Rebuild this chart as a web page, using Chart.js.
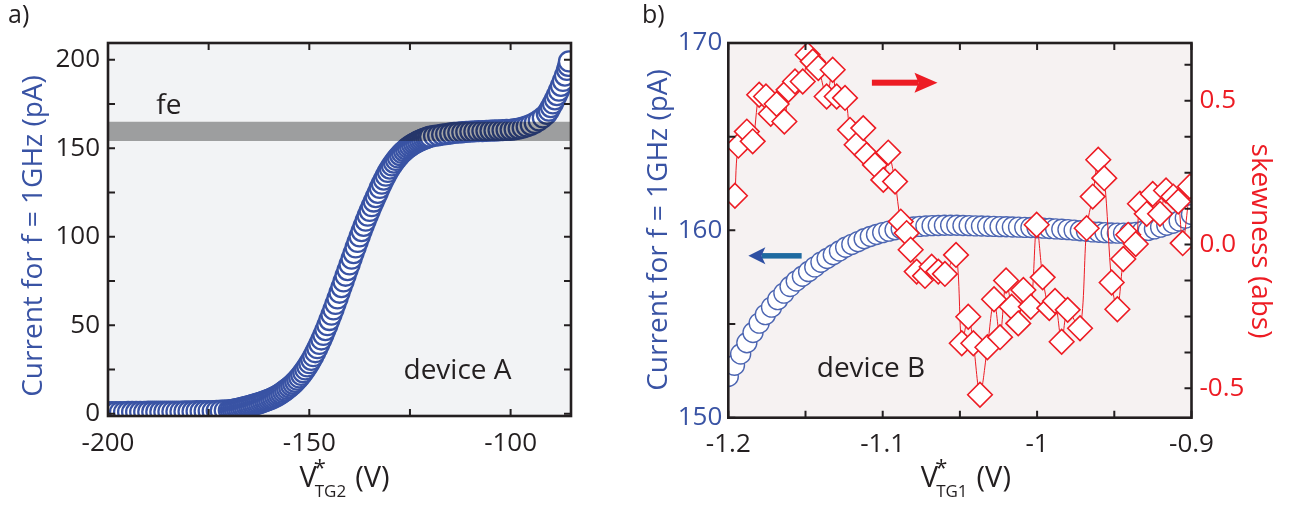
<!DOCTYPE html>
<html><head><meta charset="utf-8">
<script src="https://cdn.jsdelivr.net/npm/chart.js@4.4.1/dist/chart.umd.min.js"></script>
<style>
html,body{margin:0;padding:0;background:#fff;}
#wrap{position:relative;width:1293px;height:508px;overflow:hidden;background:#fff;}
#ca{position:absolute;left:0;top:0;width:640px;height:508px;}
#cb{position:absolute;left:640px;top:0;width:653px;height:508px;}
</style></head><body>
<div id="wrap"><canvas id="ca" width="640" height="508"></canvas><canvas id="cb" width="653" height="508"></canvas></div>
<script>
// ---------------- Panel a data (device A) ----------------
const voltageA = [
-200,-199,-198,-197,-196,-195,-194,-193,-192,-191,-190,-189,-188,-187,-186,-185,-184,-183,-182,-181,-180,-179,-178,-177,-176,-175,-174,-173,-172,-171,
-170,-169.5,-169,-168.5,-168,-167.5,-167,-166.5,-166,-165.5,
-165,-164.5,-164,-163.5,-163,-162.5,-162,-161.5,-161,-160.5,
-160,-159.5,-159,-158.5,-158,-157.5,-157,-156.5,-156,-155.5,
-155,-154.5,-154,-153.5,-153,-152.5,-152,-151.5,-151,-150.5,
-150,-149.5,-149,-148.5,-148,-147.5,-147,-146.5,-146,-145.5,
-145,-144.5,-144,-143.5,-143,-142.5,-142,-141.5,-141,-140.5,
-140,-139.5,-139,-138.5,-138,-137.5,-137,-136.5,-136,-135.5,
-135,-134.5,-134,-133.5,-133,-132.5,-132,-131.5,-131,-130.5,
-130,-129.5,-129,-128.5,-128,-127.5,-127,-126.5,-126,-125.5,
-125,-124.5,-124,-123.5,-123,-122.5,-122,-121.5,-121,-120.5,
-120,
-119,-118,-117,-116,-115,-114,-113,-112,-111,-110,-109,-108,-107,-106,-105,-104,-103,-102,-101,-100,-99,-98,-97,-96,-95,-94,-93,-92,-91,
-90.5,-90,-89.5,-89,-88.5,-88,-87.5,-87,-86.5,-86,-85.7,-85.5];
const currentA = [
1.0,1.0,1.0,1.0,1.0,1.1,1.1,1.1,1.1,1.1,1.2,1.2,1.2,1.2,1.2,1.3,1.3,1.3,1.3,1.4,1.4,1.4,1.5,1.5,1.5,1.6,1.6,1.7,1.8,1.9,
2.0,2.1,2.3,2.5,2.7,2.9,3.2,3.5,3.8,4.1,
4.4,4.7,5.0,5.3,5.6,6.0,6.4,6.8,7.2,7.6,
8.0,8.5,9.0,9.6,10.2,10.9,11.6,12.4,13.2,14.1,
15.0,16.0,17.0,18.1,19.3,20.6,22.0,23.5,25.1,26.8,
28.6,30.5,32.6,34.8,37.1,39.5,42.0,44.6,47.3,50.1,
53.0,56.0,59.0,62.1,65.2,68.4,71.6,74.8,78.0,81.2,
84.4,87.6,90.8,94.0,97.1,100.2,103.2,106.2,109.1,111.9,
114.6,117.3,119.9,122.4,124.8,127.6,130.0,132.3,134.5,136.6,
138.5,140.3,141.9,143.4,144.8,146.1,147.3,148.4,149.4,150.3,
151.1,151.9,152.6,153.2,153.8,154.3,154.8,155.3,155.7,156.1,
156.5,
156.9,157.3,157.7,158.0,158.3,158.6,158.8,159.0,159.2,159.4,159.5,159.6,159.7,159.8,159.9,160.0,160.1,160.2,160.3,160.4,160.7,161.1,161.6,162.3,163.2,164.3,165.7,167.4,169.4,
171.2,173.2,175.3,177.6,180.0,182.5,185.2,188.0,191.0,194.2,196.5,199.0];
const feBand = [154, 165];           // shaded "fe" level (pA)
const xRangeA = [-200, -85];
const yRangeA = [-1.2, 209.4];
const xTickLabelsA = [-200, -150, -100];
const yTickLabelsA = [0, 50, 100, 150, 200];

// ---------------- Panel b data (device B) ----------------
const voltageB = [
-1.200,-1.196,-1.192,-1.188,-1.184,-1.180,-1.176,-1.172,-1.168,-1.164,-1.160,-1.156,-1.152,-1.148,-1.144,-1.140,-1.136,-1.132,-1.128,-1.124,
-1.120,-1.116,-1.112,-1.108,-1.104,-1.100,-1.096,-1.092,-1.088,-1.084,-1.080,-1.076,-1.072,-1.068,-1.064,-1.060,-1.056,-1.052,-1.048,-1.044,
-1.040,-1.036,-1.032,-1.028,-1.024,-1.020,-1.016,-1.012,-1.008,-1.004,-1.000,-0.996,-0.992,-0.988,-0.984,-0.980,-0.976,-0.972,-0.968,-0.964,
-0.960,-0.956,-0.952,-0.948,-0.944,-0.940,-0.936,-0.932,-0.928,-0.924,-0.920,-0.916,-0.912,-0.908,-0.904,-0.900];
const currentB = [
152.2,152.8,153.4,154.0,154.55,155.05,155.5,155.9,156.3,156.65,157.0,157.3,157.55,157.8,158.05,158.3,158.5,158.7,158.9,159.1,
159.25,159.4,159.55,159.67,159.78,159.88,159.96,160.03,160.09,160.14,160.18,160.21,160.23,160.25,160.26,160.27,160.27,160.27,160.26,160.25,
160.24,160.23,160.22,160.21,160.2,160.19,160.18,160.17,160.16,160.15,160.14,160.12,160.1,160.08,160.06,160.04,160.01,159.98,159.95,159.92,
159.9,159.88,159.86,159.85,159.85,159.86,159.89,159.94,160.0,160.08,160.17,160.27,160.38,160.5,160.65,160.85];
const skewVoltageB = [
-1.1957,-1.1935,-1.188,-1.1842,-1.180,-1.1756,-1.1725,-1.1687,-1.1637,-1.161,
-1.1568,-1.1518,-1.1486,-1.1453,-1.1417,-1.1363,-1.1324,-1.1298,-1.1244,-1.1212,
-1.1169,-1.1126,-1.1104,-1.105,-1.0996,-1.0964,-1.092,-1.0883,-1.0845,-1.0819,
-1.078,-1.0726,-1.0683,-1.064,-1.0597,-1.0525,-1.0488,-1.0446,-1.0413,-1.037,
-1.0322,-1.0279,-1.024,-1.0201,-1.0165,-1.0122,-1.0089,-1.0041,-1.0003,-0.9964,
-0.9921,-0.9884,-0.9841,-0.9802,-0.9722,-0.9679,-0.964,-0.9604,-0.9565,-0.9517,
-0.948,-0.9442,-0.941,-0.9361,-0.9334,-0.929,-0.9251,-0.9204,-0.9165,-0.9118,
-0.9086,-0.9057,-0.901];
const skewnessB = [
0.170,0.344,0.393,0.359,0.521,0.515,0.455,0.489,0.428,0.538,
0.567,0.567,0.660,0.637,0.614,0.515,0.608,0.515,0.510,0.399,
0.347,0.405,0.312,0.277,0.225,0.320,0.219,0.080,0.040,-0.018,
-0.094,-0.109,-0.077,-0.094,-0.102,-0.036,-0.343,-0.251,-0.343,-0.522,
-0.357,-0.190,-0.322,-0.125,-0.216,-0.274,-0.158,-0.216,0.069,-0.114,
-0.221,-0.196,-0.338,-0.227,-0.291,0.057,0.167,0.295,0.231,-0.132,
-0.225,-0.050,0.034,0.002,0.142,0.107,0.176,0.107,0.188,0.167,
0.150,0.005,0.202];
const xRangeB = [-1.2, -0.9];
const yRangeB = [150, 170];
const skewRangeB = [-0.602, 0.701];
const xTickLabelsB = ['-1.2', '-1.1', '-1', '-0.9'];
const yTickLabelsB = [150, 160, 170];
const skewTickLabelsB = [-0.5, 0, 0.5];

// ---------------- styling ----------------
const INK = '#231f20', BLUE = '#3953a4', CIRC_B = '#4d66b2', RED = '#ed1c24';
const FONT = '"Open Sans", "DejaVu Sans", sans-serif';
const tickFont = {family: FONT, size: 26, lineHeight: 1.2};

function txt(ctx, s, x, y, size, color, align, baseline, rot) {
  ctx.save(); ctx.translate(x, y); if (rot) ctx.rotate(rot);
  ctx.font = size + 'px ' + FONT; ctx.fillStyle = color;
  ctx.textAlign = align || 'left'; ctx.textBaseline = baseline || 'alphabetic';
  ctx.fillText(s, 0, 0); ctx.restore();
}
function innerTicks(chart, id, sides, len) {
  const sc = chart.scales[id], a = chart.chartArea, ctx = chart.ctx;
  ctx.save(); ctx.strokeStyle = INK; ctx.lineWidth = 2; ctx.beginPath();
  sc.ticks.forEach(t => {
    const p = sc.getPixelForValue(t.value);
    sides.forEach(side => {
      if (side === 'bottom') { ctx.moveTo(p, a.bottom); ctx.lineTo(p, a.bottom - len); }
      if (side === 'top') { ctx.moveTo(p, a.top); ctx.lineTo(p, a.top + len); }
      if (side === 'left') { ctx.moveTo(a.left, p); ctx.lineTo(a.left + len, p); }
      if (side === 'right') { ctx.moveTo(a.right, p); ctx.lineTo(a.right - len, p); }
    });
  });
  ctx.stroke(); ctx.restore();
}
function frame(chart) {
  const a = chart.chartArea, ctx = chart.ctx;
  ctx.save(); ctx.strokeStyle = INK; ctx.lineWidth = 2.6;
  ctx.strokeRect(a.left, a.top, a.width, a.height); ctx.restore();
}
function xTitle(ctx, cx, baseY, sub) {
  ctx.save();
  ctx.font = '29px ' + FONT; const wV = ctx.measureText('V').width;
  ctx.font = '17px ' + FONT; const wS = ctx.measureText(sub).width;
  ctx.font = '29px ' + FONT; const wP = ctx.measureText('(V)').width;
  const total = wV - 2 + wS + 9 + wP;
  const x0 = cx - total / 2;
  txt(ctx, 'V', x0, baseY, 29, INK);
  txt(ctx, '*', x0 + wV - 3, baseY - 12, 22, INK);
  txt(ctx, sub, x0 + wV - 2, baseY + 10, 17, INK);
  txt(ctx, '(V)', x0 + wV - 2 + wS + 9, baseY, 29, INK);
  ctx.restore();
}
function arrow(ctx, x1, x2, y, shaftColor, headColor, thick, headLen, headHalf) {
  const dir = Math.sign(x2 - x1);
  const xb = x2 - dir * headLen;
  ctx.save();
  ctx.fillStyle = shaftColor;
  ctx.fillRect(Math.min(x1, xb + dir), y - thick / 2, Math.abs(xb + dir - x1), thick);
  ctx.fillStyle = headColor; ctx.beginPath();
  ctx.moveTo(x2, y); ctx.lineTo(xb - dir * 3, y - headHalf); ctx.lineTo(xb + dir * 1, y); ctx.lineTo(xb - dir * 3, y + headHalf);
  ctx.closePath(); ctx.fill(); ctx.restore();
}

// ---------------- Panel a ----------------
const decoA = {
  id: 'decoA',
  beforeDraw(chart) {
    const {ctx, chartArea: a} = chart;
    ctx.save(); ctx.fillStyle = '#f2f3f5'; ctx.fillRect(a.left, a.top, a.width, a.height); ctx.restore();
  },
  afterDraw(chart) {
    const {ctx, chartArea: a, scales: {x, y}} = chart;
    frame(chart);
    innerTicks(chart, 'x', ['bottom', 'top'], 7);
    innerTicks(chart, 'y', ['left', 'right'], 7);
    txt(ctx, 'fe', x.getPixelForValue(-188.0), y.getPixelForValue(169.1), 28, INK);
    txt(ctx, 'device A', x.getPixelForValue(-126.6), y.getPixelForValue(19.8), 28, INK);
    txt(ctx, 'Current for f = 1GHz (pA)', 42, 236, 28, BLUE, 'center', 'alphabetic', -Math.PI / 2);
    xTitle(ctx, (a.left + a.right) / 2 + 5, 487, 'TG2');
    txt(ctx, 'a)', 8, 23, 25, INK);
  }
};

new Chart(document.getElementById('ca'), {
  type: 'scatter',
  data: {datasets: [
    {label: 'fe', data: xRangeA.map(v => ({x: v, y: feBand[1]})), showLine: true,
     borderColor: 'rgba(0,0,0,0)', borderWidth: 0, pointRadius: 0,
     fill: {value: feBand[0]}, backgroundColor: 'rgba(0,0,0,0.35)', order: 0},
    {label: 'Current', data: voltageA.map((v, i) => ({x: v, y: currentA[i]})), showLine: false,
     pointStyle: 'circle', pointRadius: 10, pointBorderWidth: 2.3,
     pointBorderColor: BLUE, pointBackgroundColor: '#ffffff', order: 1}
  ]},
  options: {
    responsive: false, animation: false, events: [],
    layout: {padding: {left: 0, right: 69, top: 43, bottom: 0}},
    plugins: {legend: {display: false}, tooltip: {enabled: false}},
    scales: {
      x: {type: 'linear', position: 'bottom', min: xRangeA[0], max: xRangeA[1],
        afterFit: s => { s.height = 92; },
        grid: {display: false, drawTicks: false}, border: {display: false},
        ticks: {stepSize: 25, includeBounds: false, autoSkip: false, maxRotation: 0, padding: 12,
          color: INK, font: tickFont, callback: v => xTickLabelsA.includes(v) ? String(v) : ''}},
      y: {type: 'linear', position: 'left', min: yRangeA[0], max: yRangeA[1],
        afterFit: s => { s.width = 108; },
        grid: {display: false, drawTicks: false}, border: {display: false},
        ticks: {stepSize: 25, includeBounds: false, autoSkip: false, padding: 8,
          color: INK, font: tickFont, callback: v => yTickLabelsA.includes(v) ? String(v) : ''}}
    }
  },
  plugins: [decoA]
});

// ---------------- Panel b ----------------
const decoB = {
  id: 'decoB',
  beforeDraw(chart) {
    const {ctx, chartArea: a} = chart;
    ctx.save(); ctx.fillStyle = '#f6f2f2'; ctx.fillRect(a.left, a.top, a.width, a.height); ctx.restore();
  },
  afterDraw(chart) {
    const {ctx, chartArea: a, scales: {x, y, y2}} = chart;
    frame(chart);
    innerTicks(chart, 'x', ['bottom', 'top'], 7);
    innerTicks(chart, 'y', ['left'], 7);
    innerTicks(chart, 'y2', ['right'], 7);
    arrow(ctx, x.getPixelForValue(-1.107), x.getPixelForValue(-1.0645), y2.getPixelForValue(0.563), RED, RED, 6, 20, 10);
    arrow(ctx, x.getPixelForValue(-1.1525), x.getPixelForValue(-1.187), y.getPixelForValue(158.64), '#1e6aa0', '#2d4fa3', 5.5, 14, 8.5);
    txt(ctx, 'device B', x.getPixelForValue(-1.1427), y.getPixelForValue(152.19), 28, INK);
    txt(ctx, 'Current for f = 1GHz (pA)', 27, 230, 28, BLUE, 'center', 'alphabetic', -Math.PI / 2);
    txt(ctx, 'skewness (abs)', 612, 241, 28, RED, 'center', 'alphabetic', Math.PI / 2);
    xTitle(ctx, (a.left + a.right) / 2 + 6, 487, 'TG1');
    txt(ctx, 'b)', 2, 23, 25, INK);
  }
};

new Chart(document.getElementById('cb'), {
  type: 'scatter',
  data: {datasets: [
    {label: 'Current', yAxisID: 'y', data: voltageB.map((v, i) => ({x: v, y: currentB[i]})), showLine: false,
     pointStyle: 'circle', pointRadius: 10, pointBorderWidth: 1.4,
     pointBorderColor: CIRC_B, pointBackgroundColor: '#ffffff', order: 2},
    {label: 'Skewness', yAxisID: 'y2', data: skewVoltageB.map((v, i) => ({x: v, y: skewnessB[i]})), showLine: true,
     borderColor: RED, borderWidth: 1, tension: 0.3,
     pointStyle: 'rectRot', pointRadius: 12.3, pointBorderWidth: 1.6,
     pointBorderColor: RED, pointBackgroundColor: '#ffffff', order: 1}
  ]},
  options: {
    responsive: false, animation: false, events: [],
    layout: {padding: {left: 0, right: 0, top: 43, bottom: 0}},
    plugins: {legend: {display: false}, tooltip: {enabled: false}},
    scales: {
      x: {type: 'linear', position: 'bottom', min: xRangeB[0], max: xRangeB[1],
        afterFit: s => { s.height = 90.3; },
        grid: {display: false, drawTicks: false}, border: {display: false},
        ticks: {stepSize: 0.05, includeBounds: false, autoSkip: false, maxRotation: 0, padding: 11,
          color: INK, font: tickFont,
          callback: v => { const s = String(Math.round(v * 10) / 10); return (Math.abs(v * 10 - Math.round(v * 10)) < 1e-6 && xTickLabelsB.includes(s)) ? s : ''; }}},
      y: {type: 'linear', position: 'left', min: yRangeB[0], max: yRangeB[1],
        afterFit: s => { s.width = 88.3; },
        grid: {display: false, drawTicks: false}, border: {display: false},
        ticks: {stepSize: 5, includeBounds: false, autoSkip: false, padding: 6,
          color: BLUE, font: tickFont, callback: v => yTickLabelsB.includes(v) ? String(v) : ''}},
      y2: {type: 'linear', position: 'right', min: skewRangeB[0], max: skewRangeB[1],
        afterFit: s => { s.width = 101.5; },
        grid: {display: false, drawTicks: false}, border: {display: false},
        ticks: {stepSize: 0.125, includeBounds: false, autoSkip: false, padding: 8,
          color: RED, font: tickFont,
          callback: v => skewTickLabelsB.some(t => Math.abs(t - v) < 1e-9) ? v.toFixed(1) : ''}}
    }
  },
  plugins: [decoB]
});
</script>
</body></html>
